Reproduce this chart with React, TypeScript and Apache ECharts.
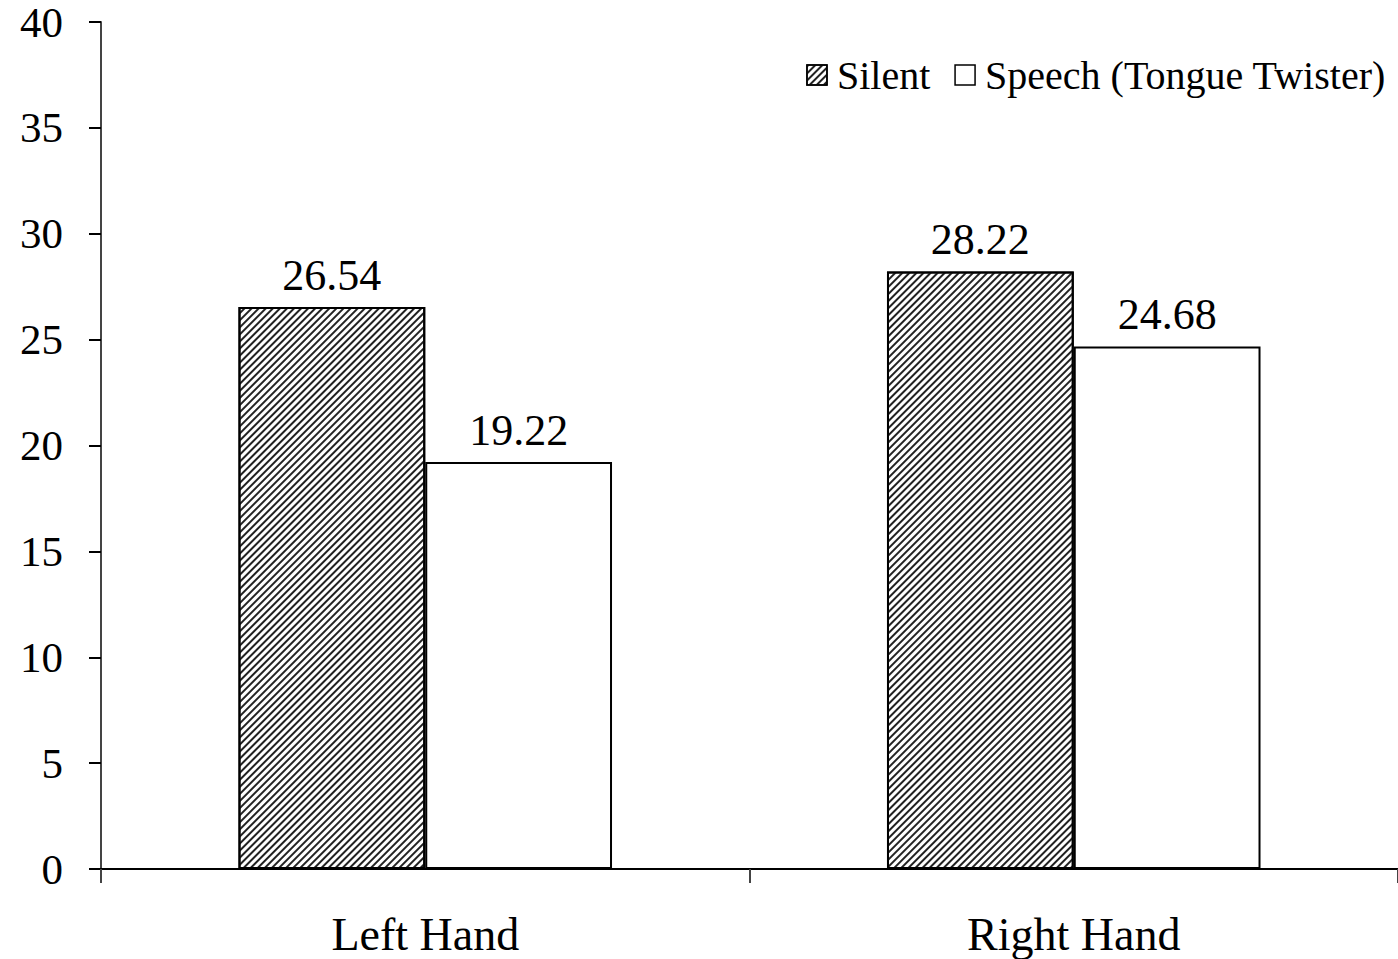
import React, { useEffect, useRef } from "react";
import * as echarts from "echarts";

const categories = ["Left Hand", "Right Hand"];
const silentValues = [26.54, 28.22];
const speechValues = [19.22, 24.68];
const seriesNames = ["Silent", "Speech (Tongue Twister)"];

const FONT = "'Liberation Serif', 'Times New Roman', serif";

export default function App() {
  const ref = useRef<HTMLDivElement>(null);
  useEffect(() => {
    document.body.style.margin = "0";
    const chart = echarts.init(ref.current!, undefined, { renderer: "svg" });
    const labelStyle = {
      show: true,
      position: "top" as const,
      distance: 10,
      color: "#000",
      fontFamily: FONT,
      fontSize: 44,
      formatter: (p: any) => p.value.toFixed(2),
    };
    chart.setOption({
      animation: false,
      backgroundColor: "#fff",
      textStyle: { fontFamily: FONT, color: "#000" },
      grid: { left: 101, right: -2, top: 22, bottom: 90, containLabel: false },
      legend: {
        right: 7,
        top: 50,
        icon: "rect",
        itemWidth: 20,
        itemHeight: 20,
        itemGap: 24,
        textStyle: { fontFamily: FONT, fontSize: 40, color: "#000", padding: [0, 0, 0, 5] },
        itemStyle: { borderColor: "#000", borderWidth: 1.5 },
        data: seriesNames,
      },
      xAxis: {
        type: "category",
        data: categories,
        axisLine: { lineStyle: { color: "#000", width: 2 } },
        axisTick: { show: true, length: 14, lineStyle: { color: "#444", width: 2 } },
        axisLabel: { color: "#000", fontFamily: FONT, fontSize: 46, margin: 42 },
      },
      yAxis: {
        type: "value",
        min: 0,
        max: 40,
        interval: 5,
        splitLine: { show: false },
        axisLine: { show: true, lineStyle: { color: "#444", width: 2 } },
        axisTick: { show: true, length: 12, lineStyle: { color: "#000", width: 2 } },
        axisLabel: {
          color: "#000",
          fontFamily: FONT,
          fontSize: 43,
          lineHeight: 34,
          margin: 38,
        },
      },
      series: [
        {
          name: seriesNames[0],
          type: "bar",
          data: silentValues,
          barGap: "0%",
          barCategoryGap: "42.4%",
          itemStyle: {
            color: "#fff",
            borderColor: "#000",
            borderWidth: 2,
            decal: {
              symbol: "rect",
              symbolSize: 1,
              color: "#222",
              backgroundColor: "#fff",
              dashArrayX: [1, 0],
              dashArrayY: [1.5, 2.5],
              rotation: -Math.PI / 4,
            },
          },
          label: labelStyle,
        },
        {
          name: seriesNames[1],
          type: "bar",
          data: speechValues,
          itemStyle: { color: "#fff", borderColor: "#000", borderWidth: 2 },
          label: labelStyle,
        },
      ],
    });
    return () => chart.dispose();
  }, []);
  return <div ref={ref} style={{ width: 1398, height: 959 }} />;
}
